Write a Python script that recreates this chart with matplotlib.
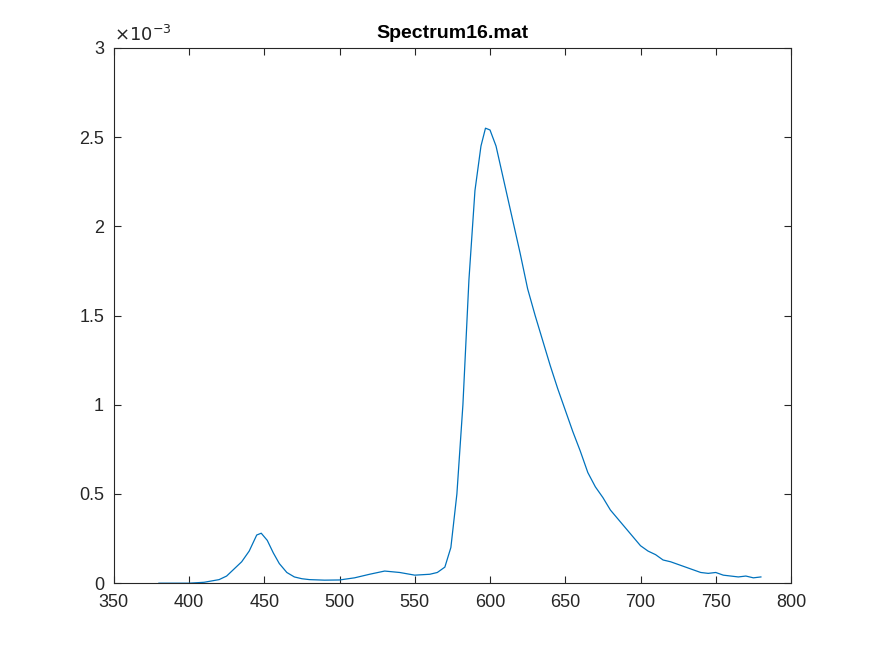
import matplotlib
matplotlib.use("Agg")
import matplotlib.pyplot as plt

wavelength = [380, 390, 400, 410, 420, 425, 430, 435, 440, 445, 448, 452, 456, 460, 465, 470, 475,
              480, 490, 500, 510, 520, 530, 540, 550, 560, 565, 570, 574, 578, 582, 586, 590,
              594, 597, 600, 604, 608, 612, 616, 620, 625, 630, 635, 640, 645, 650, 655, 660,
              665, 670, 675, 680, 685, 690, 695, 700, 705, 710, 715, 720, 725, 730, 735, 740,
              745, 750, 755, 760, 765, 770, 775, 780]
intensity = [0.0, 0.0, 0.0, 0.005, 0.02, 0.04, 0.08, 0.12, 0.18, 0.27, 0.28, 0.24, 0.17, 0.11,
             0.06, 0.035, 0.025, 0.02, 0.017, 0.018, 0.03, 0.05, 0.068, 0.06, 0.045, 0.05,
             0.06, 0.09, 0.2, 0.5, 1.0, 1.7, 2.2, 2.45, 2.55, 2.54, 2.45, 2.3, 2.15, 2.0,
             1.85, 1.65, 1.5, 1.36, 1.22, 1.09, 0.97, 0.85, 0.74, 0.62, 0.54, 0.48, 0.41,
             0.36, 0.31, 0.26, 0.21, 0.18, 0.16, 0.13, 0.12, 0.105, 0.09, 0.075, 0.06,
             0.055, 0.06, 0.045, 0.04, 0.035, 0.04, 0.03, 0.035]

plt.rcParams['font.family'] = ['Liberation Sans', 'DejaVu Sans']
fig = plt.figure(figsize=(8.75, 6.56), dpi=100)
ax = fig.add_axes([0.13, 0.111, 0.774, 0.816])
ax.plot(wavelength, [v * 1e-3 for v in intensity], color='#0072BD', lw=0.9)
ax.set_xlim(350, 800)
ax.set_ylim(0, 3e-3)
ax.set_xticks(range(350, 801, 50))
ax.set_yticks([0, 0.5e-3, 1e-3, 1.5e-3, 2e-3, 2.5e-3, 3e-3])
ax.set_yticklabels(['0', '0.5', '1', '1.5', '2', '2.5', '3'])
ax.tick_params(direction='in', length=5, labelsize=13, colors='#262626', top=True, right=True,
               labeltop=False, labelright=False)
ax.tick_params(axis='x', pad=8)
ax.tick_params(axis='y', pad=7)
for s in ax.spines.values():
    s.set_color('#262626')
    s.set_linewidth(0.8)
ax.set_title('Spectrum16.mat', fontsize=14, fontweight='bold', color='black', pad=7)
ax.text(0.0, 1.005, r'$\times10^{-3}$', transform=ax.transAxes, fontsize=13, color='#262626',
        ha='left', va='bottom')
fig.savefig('out.png', dpi=100)
